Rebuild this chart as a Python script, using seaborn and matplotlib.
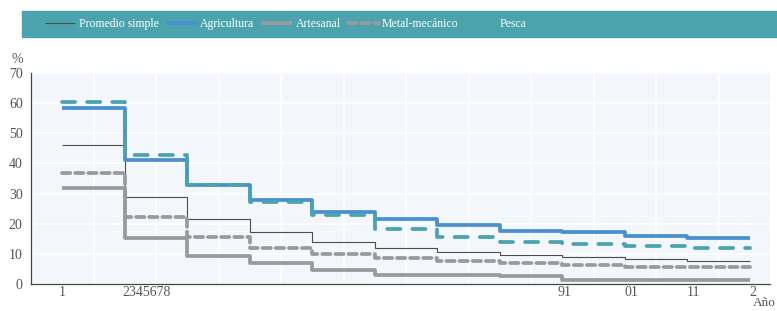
import matplotlib
matplotlib.use("Agg")
import matplotlib.pyplot as plt
import seaborn as sns
import pandas as pd
import numpy as np

# years 1..12, one level per year interval (steps-post)
years = [1, 2, 3, 4, 5, 6, 7, 8, 9, 10, 11, 12]
promedio = [46.2, 29.0, 21.4, 17.1, 13.9, 11.8, 10.7, 9.5, 8.8, 8.2, 7.6]
agricultura = [58.4, 41.3, 32.7, 27.8, 23.9, 21.5, 19.7, 17.7, 17.1, 15.8, 15.1]
artesanal = [31.8, 15.1, 9.2, 7.0, 4.6, 3.1, 3.0, 2.5, 1.3, 1.3, 1.3]
metal = [36.8, 22.2, 15.7, 11.9, 10.1, 8.7, 7.6, 6.9, 6.3, 5.6, 5.6]
pesca = [60.3, 42.7, 33.0, 27.2, 22.8, 18.3, 15.6, 13.9, 13.2, 12.6, 11.8]

tick_pos = [1, 2.35, 9.04, 10.1, 11.1, 12.05]
tick_txt = ["1", "2345678", "91", "01", "11", "2"]

sns.set_style("whitegrid")
plt.rcParams["font.family"] = ["Liberation Serif", "DejaVu Serif"]

fig = plt.figure(figsize=(7.77, 3.11), dpi=100)
ax = fig.add_axes([31 / 777, 1 - 284 / 311, 739 / 777, 211 / 311])
ax.set_facecolor("#f3f7fb")

series = [
    ("Promedio simple", promedio, "#4d4d4d", 0.8, "-"),
    ("Agricultura", agricultura, "#4a90cf", 2.7, "-"),
    ("Artesanal", artesanal, "#999a9c", 2.7, "-"),
    ("Metal-mecánico", metal, "#999a9c", 2.7, (0, (2.2, 1.3))),
    ("Pesca", pesca, "#4aa3ad", 2.7, (0, (3.5, 3.2))),
]

for name, vals, col, lw, ls in series:
    df = pd.DataFrame({"x": years, "y": vals + [vals[-1]]})
    sns.lineplot(data=df, x="x", y="y", ax=ax, color=col, linewidth=lw,
                 linestyle=ls, drawstyle="steps-post", label=name,
                 solid_capstyle="butt", dash_capstyle="round")

handles, labels = ax.get_legend_handles_labels()
ax.get_legend().remove()

ax.set_xlim(0.5, 12.32)
ax.set_ylim(0, 70)
ax.set_yticks(np.arange(0, 71, 10))
ax.set_xticks(np.arange(1.5, 12, 1))
ax.set_xticklabels([])
ax.set_xticks(tick_pos, minor=True)
ax.set_xticklabels(tick_txt, minor=True)
ax.tick_params(axis="x", which="major", direction="in", length=3, color="#555555", width=0.8)
ax.tick_params(axis="x", which="minor", length=0, pad=1.5, labelsize=10, labelcolor="#555555")
ax.tick_params(axis="y", length=0, pad=6, labelsize=10, labelcolor="#555555")
ax.grid(True, color="white", linewidth=1.2)
ax.grid(False, which="minor")

for s in ["top", "right"]:
    ax.spines[s].set_visible(False)
for s in ["left", "bottom"]:
    ax.spines[s].set_color("#444444")
    ax.spines[s].set_linewidth(0.9)

ax.set_xlabel("Año", fontsize=9.5, color="#555555", ha="right")
ax.xaxis.set_label_coords(1.008, -0.062)
ax.set_ylabel("%", fontsize=10, color="#555555", rotation=0)
ax.yaxis.set_label_coords(-0.019, 1.035)

# legend band
band = plt.Rectangle((22 / 777, 1 - 37 / 311), 755 / 777, 26 / 311,
                     transform=fig.transFigure, color="#4aa3ad", zorder=0)
fig.patches.append(band)
leg = fig.legend(handles, labels, loc="center left", ncol=5, frameon=False,
                 bbox_to_anchor=(34 / 777, 1 - 24 / 311), fontsize=8.5,
                 handlelength=2.6, handletextpad=0.3, columnspacing=0.6)
for t in leg.get_texts():
    t.set_color("white")

fig.savefig("out.png", dpi=100)
